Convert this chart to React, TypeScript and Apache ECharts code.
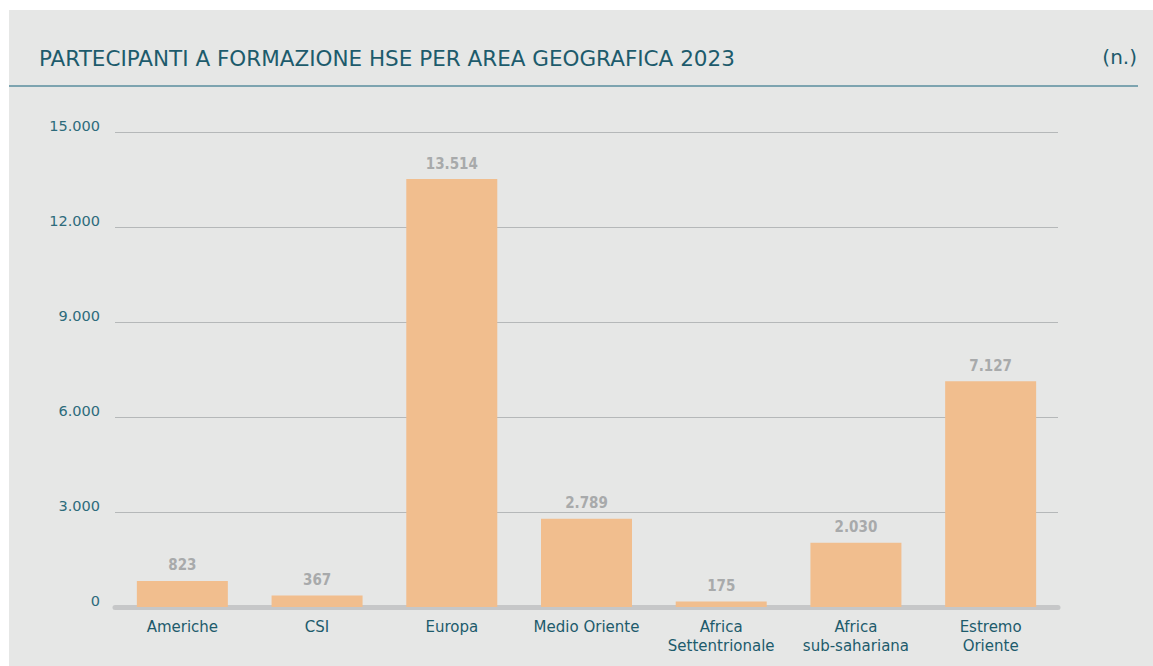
import React, { useEffect, useRef } from "react";
import * as echarts from "echarts";

const categories = ["Americhe", "CSI", "Europa", "Medio Oriente", "Africa\nSettentrionale", "Africa\nsub-sahariana", "Estremo\nOriente"];
const values = [823, 367, 13514, 2789, 175, 2030, 7127];
const yTicks = [0, 3000, 6000, 9000, 12000, 15000];
const title = "PARTECIPANTI A FORMAZIONE HSE PER AREA GEOGRAFICA 2023";
const unit = "(n.)";

const FONT = "'DejaVu Sans', sans-serif";
const FONT_C = "'DejaVu Sans Condensed', 'DejaVu Sans', sans-serif";
const TEAL = "#1d5b6c";

const fmt = (v: number) => v.toString().replace(/\B(?=(\d{3})+(?!\d))/g, ".");

export default function App() {
  const ref = useRef<HTMLDivElement>(null);
  useEffect(() => {
    if (!ref.current) return;
    const chart = echarts.init(ref.current, undefined, { renderer: "svg" });
    chart.setOption({
      animation: false,
      backgroundColor: "#e6e7e6",
      graphic: [
        { type: "text", left: 30, top: 37, style: { text: title, font: `21.5px ${FONT}`, fill: TEAL } },
        { type: "text", right: 16, top: 37, style: { text: unit, font: `20px ${FONT}`, fill: TEAL } },
        { type: "line", shape: { x1: 0, y1: 76, x2: 1129, y2: 76 }, style: { stroke: "#7da4b0", lineWidth: 2 } },
      ],
      grid: { left: 106, right: 95, top: 122, bottom: 59, containLabel: false },
      xAxis: {
        type: "category",
        data: categories,
        offset: 3,
        axisLine: { show: true, lineStyle: { color: "#c6c7c8", width: 5 } },
        axisTick: { show: false },
        axisLabel: { color: TEAL, fontFamily: FONT, fontSize: 15, lineHeight: 19, margin: 7, interval: 0 },
      },
      yAxis: {
        type: "value",
        min: yTicks[0],
        max: yTicks[yTicks.length - 1],
        interval: 3000,
        axisLine: { show: false },
        axisTick: { show: false },
        splitLine: { lineStyle: { color: "#b5b8b9", width: 1 } },
        axisLabel: {
          color: "#2d6b7b",
          fontFamily: FONT,
          fontSize: 14.5,
          lineHeight: 12,
          margin: 15,
          verticalAlign: "bottom",
          formatter: (v: number) => fmt(v),
        },
      },
      series: [
        {
          type: "bar",
          data: values,
          barWidth: 91,
          itemStyle: { color: "#f1be8e" },
          label: {
            show: true,
            position: "top",
            distance: 8,
            color: "#a8aaab",
            fontFamily: FONT_C,
            fontWeight: "bold",
            fontSize: 15,
            formatter: (p: any) => fmt(p.value),
          },
        },
      ],
    });
    return () => chart.dispose();
  }, []);
  return (
    <div
      ref={ref}
      style={{ position: "fixed", left: 9, top: 10, width: 1144, height: 656 }}
    />
  );
}
